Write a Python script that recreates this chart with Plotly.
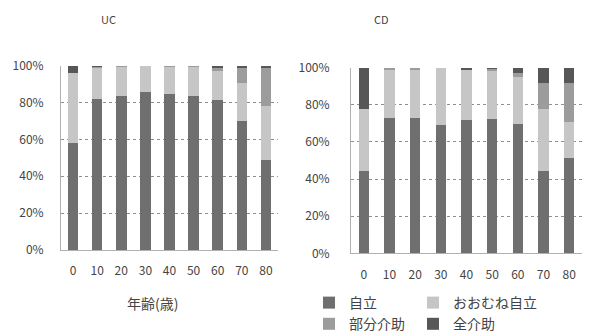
import plotly.graph_objects as go

ages = ["0", "10", "20", "30", "40", "50", "60", "70", "80"]
series_names = ["自立", "おおむね自立", "部分介助", "全介助"]
pct_vals = [0, 20, 40, 60, 80, 100]
pct_labels = ["0%", "20%", "40%", "60%", "80%", "100%"]

uc_jiritsu = [58, 82, 83.5, 85.5, 84.5, 83.5, 81.5, 70, 49]
uc_oomune = [38, 17, 16, 14.5, 15, 16, 15.5, 20.5, 29]
uc_bubun = [0, 0.5, 0.5, 0, 0.5, 0.5, 2, 8, 20.5]
uc_zen = [4, 0.5, 0, 0, 0, 0, 1, 1.5, 1.5]

cd_jiritsu = [44.5, 73, 73, 69, 72, 72.5, 69.5, 44.5, 51.5]
cd_oomune = [33, 26, 25.5, 31, 27, 25.5, 25.5, 33, 19.5]
cd_bubun = [0, 1, 1.5, 0, 0, 1.5, 2, 14.5, 21]
cd_zen = [22.5, 0, 0, 0, 1, 0.5, 3, 8, 8]

colors = ["#6f6f6f", "#c6c6c6", "#9c9c9c", "#575757"]
legends = ["legend", "legend2", "legend", "legend2"]

# page body has an 8px margin; the figure fills the rest of the 590x332 window
OFF = 8
W, H = 590 - OFF, 332 - OFF
FONT = "Noto Sans CJK JP"

fig = go.Figure()

uc = [uc_jiritsu, uc_oomune, uc_bubun, uc_zen]
cd = [cd_jiritsu, cd_oomune, cd_bubun, cd_zen]

for i, name in enumerate(series_names):
    fig.add_trace(go.Bar(x=ages, y=uc[i], name=name, marker_color=colors[i],
                         marker_line_width=0, width=0.44, xaxis="x", yaxis="y",
                         showlegend=False))
for i, name in enumerate(series_names):
    fig.add_trace(go.Bar(x=ages, y=cd[i], name=name, marker_color=colors[i],
                         marker_line_width=0, width=0.40, xaxis="x2", yaxis="y2",
                         legend=legends[i], showlegend=True))

def px_x(p):
    return (p - OFF) / W

def px_y(p):
    return 1 - (p - OFF) / H

axis_common = dict(showgrid=False, tickfont=dict(family=FONT, size=12, color="#444"),
                   showline=True, linecolor="#b0b0b0", linewidth=1, ticks="",
                   automargin=False)
yaxis_common = dict(range=[0, 100], tickmode="array", tickvals=pct_vals, ticktext=pct_labels,
                    showgrid=True, gridcolor="#8f8f8f", griddash="dot", gridwidth=1,
                    zeroline=False, showline=True, linecolor="#b0b0b0", linewidth=1,
                    tickfont=dict(family=FONT, size=12, color="#444"), ticks="",
                    automargin=False)

fig.update_layout(
    width=W, height=H,
    margin=dict(l=0, r=0, t=0, b=0, autoexpand=False),
    paper_bgcolor="white", plot_bgcolor="white",
    barmode="stack",
    font=dict(family=FONT, color="#444"),
    xaxis=dict(domain=[px_x(61), px_x(278)], anchor="y", type="category",
               range=[-0.5, 8.5], ticklabelstandoff=10, **axis_common),
    yaxis=dict(domain=[px_y(250), px_y(65.7)], anchor="x", ticklabelstandoff=14, **yaxis_common),
    xaxis2=dict(domain=[px_x(351), px_x(582)], anchor="y2", type="category",
                range=[-0.5, 8.5], ticklabelstandoff=10, **axis_common),
    yaxis2=dict(domain=[px_y(253.3), px_y(67.7)], anchor="x2", ticklabelstandoff=18, **yaxis_common),
    legend=dict(x=px_x(309), y=px_y(287), xanchor="left", yanchor="top",
                traceorder="normal", font=dict(family=FONT, size=14, color="#444"),
                bgcolor="rgba(0,0,0,0)", itemwidth=30, tracegroupgap=0),
    legend2=dict(x=px_x(413), y=px_y(287), xanchor="left", yanchor="top",
                 traceorder="normal", font=dict(family=FONT, size=14, color="#444"),
                 bgcolor="rgba(0,0,0,0)", itemwidth=30, tracegroupgap=0),
    annotations=[
        dict(text="UC", x=px_x(108), y=px_y(19), xref="paper", yref="paper",
             xanchor="center", yanchor="middle",
             showarrow=False, font=dict(family=FONT, size=11, color="#444")),
        dict(text="CD", x=px_x(381), y=px_y(19), xref="paper", yref="paper",
             xanchor="center", yanchor="middle",
             showarrow=False, font=dict(family=FONT, size=11, color="#444")),
        dict(text="年齢(歳)", x=px_x(152), y=px_y(303), xref="paper", yref="paper",
             xanchor="center", yanchor="middle",
             showarrow=False, font=dict(family=FONT, size=14, color="#444")),
    ],
)

fig.write_html("out.html")
